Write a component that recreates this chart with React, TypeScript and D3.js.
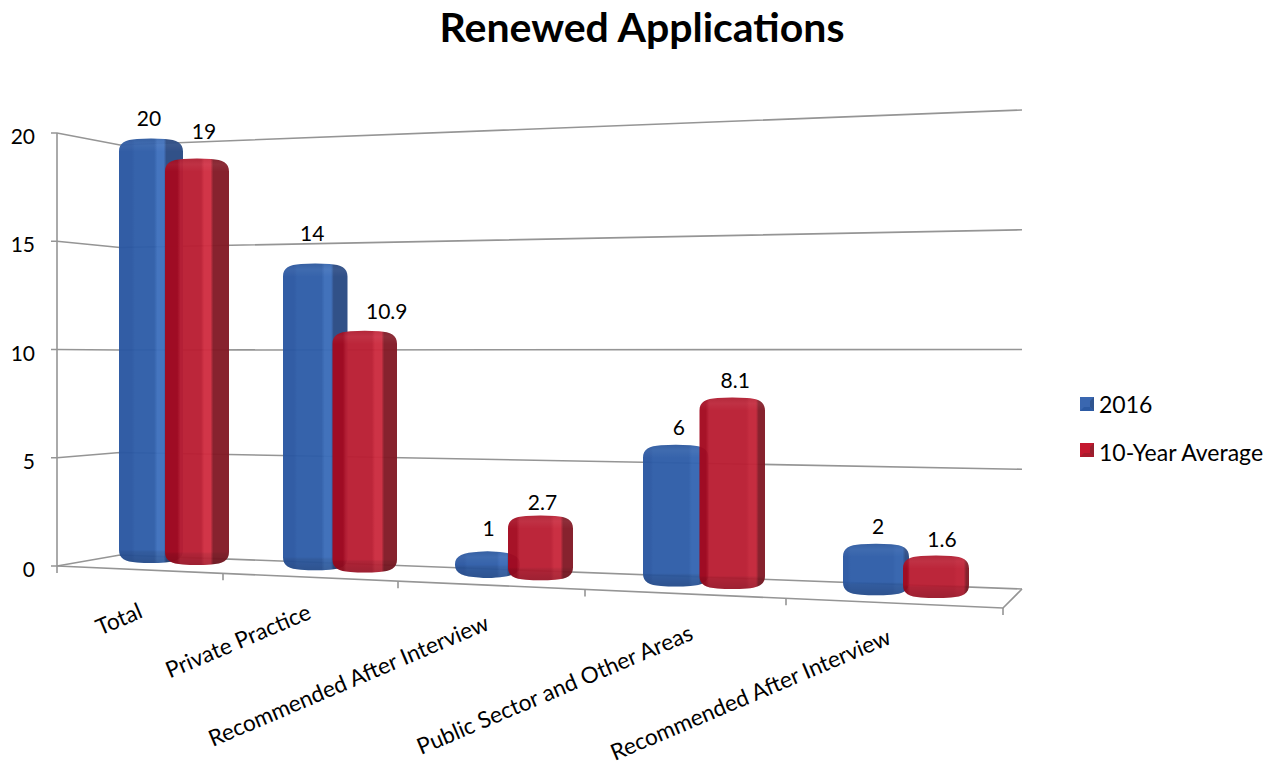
import React from "react";
import * as d3 from "d3";

// Chart content
const title = "Renewed Applications";
const categories = [
  "Total",
  "Private Practice",
  "Recommended After Interview",
  "Public Sector and Other Areas",
  "Recommended After Interview",
];
const values2016 = [20, 14, 1, 6, 2];
const valuesAverage = [19, 10.9, 2.7, 8.1, 1.6];
const yTicks = [0, 5, 10, 15, 20];
const seriesNames = ["2016", "10-Year Average"];

// Value label placement: pixels above the bar top and sideways from the bar centre
const liftBlue = [13, 23, 15, 10, 10];
const liftRed = [19, 12, 5, 10, 8];
const nudgeBlue = [-2, -3, 1, 3, 2];
const nudgeRed = [7, 22, 2, 3, 6];
// Category label anchors relative to the middle of each floor segment
const categoryDx = [4, 2, -1, 9, -2];
const categoryBaseline = [617, 618, 629, 639, 643];

const W = 1275;
const H = 765;
const FONT = "Lato, Carlito, 'Open Sans', sans-serif";
const GRID = "#959595";

// Oblique projection of the chart box: left wall, back wall and floor
const wallLeftY = d3.scaleLinear().domain([0, 20]).range([566, 133]);
const backLeftY = d3.scaleLinear().domain([0, 20]).range([555, 145]);
const backRightY = d3.scaleLinear().domain([0, 20]).range([589, 110]);
const WALL_X = 57;
const BACK_X = 120;
const RIGHT_X = 1022;
const FRONT_RIGHT_X = 1003;

// Category boundaries along the front edge of the floor widen with perspective
const tickX = d3.scaleLinear().domain([0, 1, 2, 3, 4, 5]).range([57, 223, 398, 585, 786, 1003]);
const frontY = d3.scaleLinear().domain([57, 1003]).range([566, 608]);

// Bars stand midway in depth
const groupX = d3.scaleLinear().domain([0, 1, 2, 3, 4]).range([174, 340, 514, 704, 906]);
const groupOffset = d3.scaleLinear().domain([0, 4]).range([23, 30]);
const barWidth = d3.scaleLinear().domain([0, 4]).range([64, 66]);
const barBaseY = d3.scaleLinear().domain([151, 936]).range([563, 598]);
const unitHeight = d3.scaleLinear().domain([151, 936]).range([21, 23.8]);
const BAR_PAD = 4.5;

// The side face narrows and the sheen fades as bars approach the right of the box
const sideStart = d3.scaleLinear().domain([151, 936]).range([0.72, 0.94]);
const sheen = d3.scaleLinear().domain([151, 936]).range([1, 0.2]);
const leftBand = d3.scaleLinear().domain([151, 936]).range([0.2, 0.06]);

const palette = [
  { left: "#2a57a2", base: "#2e5da8", light: "#3e70bd", side: "#294a84" },
  { left: "#a40a20", base: "#ba1e33", light: "#d12e42", side: "#831a26" },
];

type BarSpec = {
  key: string;
  cx: number;
  w: number;
  top: number;
  base: number;
  value: number;
  labelX: number;
  labelY: number;
  series: number;
};

const buildBars = (): BarSpec[] =>
  categories.flatMap((_, i) =>
    [values2016[i], valuesAverage[i]].map((value, s) => {
      const cx = groupX(i) + (s === 0 ? -1 : 1) * groupOffset(i);
      const base = barBaseY(cx);
      const top = base - (unitHeight(cx) * value + BAR_PAD);
      return {
        key: `bar-${i}-${s}`,
        cx,
        w: barWidth(i),
        top,
        base,
        value,
        labelX: cx + (s === 0 ? nudgeBlue[i] : nudgeRed[i]),
        labelY: top - (s === 0 ? liftBlue[i] : liftRed[i]),
        series: s,
      };
    })
  );

// Soft-edged column outline with slightly domed top and bottom
const barPath = (b: BarSpec, rx: number, ry: number) => {
  const x0 = b.cx - b.w / 2;
  const x1 = b.cx + b.w / 2;
  const y0 = b.top;
  const y1 = b.base;
  const p = d3.path();
  p.moveTo(x0, y0 + ry);
  p.bezierCurveTo(x0, y0 + ry * 0.35, x0 + rx * 0.35, y0 + 1.2, x0 + rx, y0 + 0.5);
  p.quadraticCurveTo(b.cx, y0 - 0.5, x1 - rx, y0 + 0.5);
  p.bezierCurveTo(x1 - rx * 0.35, y0 + 1.2, x1, y0 + ry * 0.35, x1, y0 + ry);
  p.lineTo(x1, y1 - ry);
  p.bezierCurveTo(x1, y1 - ry * 0.35, x1 - rx * 0.35, y1 - 1.2, x1 - rx, y1 - 0.5);
  p.quadraticCurveTo(b.cx, y1 + 0.5, x0 + rx, y1 - 0.5);
  p.bezierCurveTo(x0 + rx * 0.35, y1 - 1.2, x0, y1 - ry * 0.35, x0, y1 - ry);
  p.closePath();
  return p.toString();
};

const Bar = ({ b }: { b: BarSpec }) => {
  const h = b.base - b.top;
  const rx = h < 40 ? 24 : 18;
  const ry = Math.min(13, h / 2);
  const d = barPath(b, rx, ry);
  const x = b.cx - b.w / 2;
  const clip = `clip-${b.key}`;
  const face = `face-${b.key}`;
  const c = palette[b.series];
  const s = sideStart(b.cx);
  const band = leftBand(b.cx);
  const light = d3.interpolateRgb(c.base, c.light)(sheen(b.cx));
  const stops: [number, string][] = [
    [0, c.left],
    [band, c.left],
    [band + 0.05, c.base],
    [s - 0.17, c.base],
    [s - 0.12, light],
    [s - 0.02, light],
    [s + 0.02, c.side],
    [1, c.side],
  ];
  return (
    <g opacity={0.96}>
      <linearGradient id={face} x1="0" x2="1" y1="0" y2="0">
        {stops.map(([offset, color], i) => (
          <stop key={i} offset={offset} stopColor={color} />
        ))}
      </linearGradient>
      <clipPath id={clip}>
        <path d={d} />
      </clipPath>
      <path d={d} fill={`url(#${face})`} />
      <g clipPath={`url(#${clip})`}>
        <rect x={x} y={b.top - 1} width={b.w} height={ry * 1.1} fill="url(#capTop)" />
        <rect x={x} y={b.base - ry * 1.1 + 1} width={b.w} height={ry * 1.1} fill="url(#capBottom)" />
      </g>
    </g>
  );
};

const LegendSwatch = ({ x, y, colors }: { x: number; y: number; colors: string[] }) => {
  const s = 14;
  const inset = 4;
  const corner = (dx: number, dy: number) => `${x + dx},${y + dy}`;
  return (
    <g>
      <rect x={x} y={y} width={s} height={s} fill={colors[0]} />
      <polygon
        points={[corner(s, 0), corner(s, s), corner(s - inset, s - inset), corner(s - inset, inset)].join(" ")}
        fill={colors[1]}
      />
      <polygon
        points={[corner(0, s), corner(s, s), corner(s - inset, s - inset), corner(inset, s - inset)].join(" ")}
        fill={colors[2]}
      />
    </g>
  );
};

export default function App() {
  const bars = buildBars();
  const line = d3.line();
  return (
    <svg
      width={W}
      height={H}
      viewBox={`0 0 ${W} ${H}`}
      style={{ position: "absolute", left: 0, top: 0, background: "#fff" }}
      fontFamily={FONT}
    >
      <defs>
        <linearGradient id="capTop" x1="0" x2="0" y1="0" y2="1">
          <stop offset="0" stopColor="#000" stopOpacity={0.08} />
          <stop offset="0.5" stopColor="#fff" stopOpacity={0.05} />
          <stop offset="1" stopColor="#fff" stopOpacity={0} />
        </linearGradient>
        <linearGradient id="capBottom" x1="0" x2="0" y1="0" y2="1">
          <stop offset="0" stopColor="#000" stopOpacity={0} />
          <stop offset="0.15" stopColor="#000" stopOpacity={0.08} />
          <stop offset="1" stopColor="#000" stopOpacity={0.18} />
        </linearGradient>
      </defs>

      <text x={642} y={42} textAnchor="middle" fontSize={41} fontWeight={700} fill="#000">
        {title}
      </text>

      {/* Walls and floor */}
      <g fill="none" stroke={GRID} strokeWidth={1.6}>
        <path d={line([[WALL_X, wallLeftY(20)], [WALL_X, frontY(WALL_X) + 7]]) ?? ""} />
        {yTicks.map((t) => (
          <path
            key={t}
            d={
              line([
                [WALL_X - 6, wallLeftY(t)],
                [WALL_X, wallLeftY(t)],
                [BACK_X, backLeftY(t)],
                [RIGHT_X, backRightY(t)],
              ]) ?? ""
            }
          />
        ))}
        <path
          d={
            line([
              [WALL_X, frontY(WALL_X)],
              [FRONT_RIGHT_X, frontY(FRONT_RIGHT_X)],
              [RIGHT_X, backRightY(0)],
            ]) ?? ""
          }
        />
        {tickX.domain().slice(1).map((t) => {
          const x = tickX(t);
          return <path key={t} d={line([[x, frontY(x)], [x, frontY(x) + 7]]) ?? ""} />;
        })}
      </g>

      {yTicks.map((t) => (
        <text key={t} x={35} y={wallLeftY(t) + 11} textAnchor="end" fontSize={21} fill="#000">
          {t}
        </text>
      ))}

      {bars.map((b) => (
        <Bar key={b.key} b={b} />
      ))}

      {bars.map((b) => (
        <text key={b.key} x={b.labelX} y={b.labelY} textAnchor="middle" fontSize={21} fill="#000">
          {b.value}
        </text>
      ))}

      {categories.map((c, i) => (
        <text
          key={i}
          textAnchor="end"
          fontSize={22.6}
          fill="#000"
          transform={`translate(${tickX(i + 0.5) + categoryDx[i]},${categoryBaseline[i]}) rotate(-23)`}
        >
          {c}
        </text>
      ))}

      {/* Legend */}
      <LegendSwatch x={1080} y={397} colors={["#3a67b0", "#2f548f", "#2c5aa3"]} />
      <text x={1099} y={413} fontSize={23} fill="#000">
        {seriesNames[0]}
      </text>
      <LegendSwatch x={1080} y={443} colors={["#c4182f", "#97202e", "#a81a2c"]} />
      <text x={1099} y={461} fontSize={23} fill="#000">
        {seriesNames[1]}
      </text>
    </svg>
  );
}
